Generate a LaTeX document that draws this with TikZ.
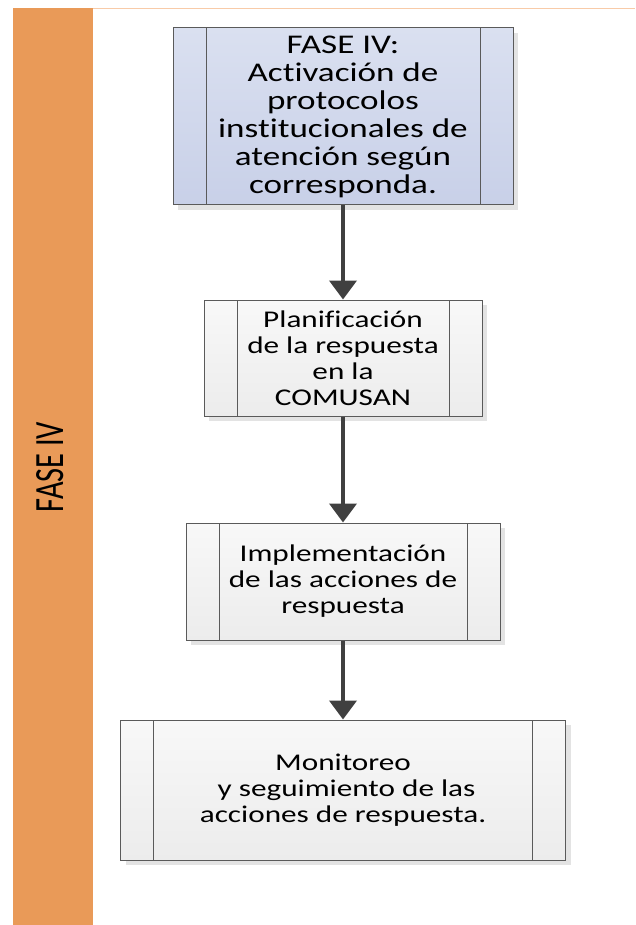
\documentclass[tikz,border=0pt]{standalone}
\usepackage{fontspec}
\setmainfont{Carlito}[FakeStretch=1.3,Ligatures=CommonOff]
\newfontfamily\fuentefase{Carlito}
\usetikzlibrary{arrows.meta,shadows}

\definecolor{naranja}{HTML}{E99A58}
\definecolor{lineasup}{HTML}{F8CBA8}
\definecolor{borde}{HTML}{5A5A5A}
\definecolor{flechacol}{HTML}{404040}
\definecolor{sombra}{HTML}{E3E3E3}
\definecolor{azulsup}{HTML}{DAE0F0}
\definecolor{azulinf}{HTML}{C8D0E8}
\definecolor{grissup}{HTML}{F8F8F8}
\definecolor{grisinf}{HTML}{ECECEC}

\begin{document}
\begin{tikzpicture}[x=1pt,y=-1pt,
  caja/.style={draw=borde,line width=1pt,inner sep=0pt,align=center,
    top color=grissup,bottom color=grisinf,
    font=\fontsize{24}{26}\selectfont,
    drop shadow={shadow xshift=5pt,shadow yshift=-5pt,fill=sombra,opacity=1},
    path picture={\draw[draw=borde,line width=1pt]
      ([xshift=33pt]path picture bounding box.north west)--([xshift=33pt]path picture bounding box.south west)
      ([xshift=-33pt]path picture bounding box.north east)--([xshift=-33pt]path picture bounding box.south east);}},
  fase/.style={caja,top color=azulsup,bottom color=azulinf,font=\fontsize{27}{28}\selectfont},
  flecha/.style={draw=flechacol,line width=4pt,-{Triangle[width=27pt,length=19pt]}}]
\useasboundingbox (0,0) rectangle (635,925);

%Franja lateral
\fill[naranja] (13,8) rectangle (93,925);
\draw[lineasup,line width=1.5pt] (93,8.5)--(635,8.5);
\node[rotate=90,font=\fuentefase\fontsize{32}{34}\selectfont] (etiqueta) at (50,467) {\scalebox{0.95}[1.3]{FASE IV}};

%Cajas del proceso
\node[fase,minimum width=340,minimum height=177] (f1) at (343,116.5) {FASE IV:\\Activación de\\protocolos\\institucionales de\\atención según\\corresponda.};
\node[caja,minimum width=278,minimum height=116] (f2) at (343,358) {Planificación\\de la respuesta\\en la\\COMUSAN};
\node[caja,minimum width=314,minimum height=117] (f3) at (343,581.5) {Implementación\\de las acciones de\\respuesta};
\node[caja,minimum width=445,minimum height=140] (f4) at (343,790) {Monitoreo\\\ y seguimiento de las\\acciones de respuesta.};

%Flechas
\draw[flecha] (f1)--(f2);
\draw[flecha] (f2)--(f3);
\draw[flecha] (f3)--(f4);

\end{tikzpicture}
\end{document}
